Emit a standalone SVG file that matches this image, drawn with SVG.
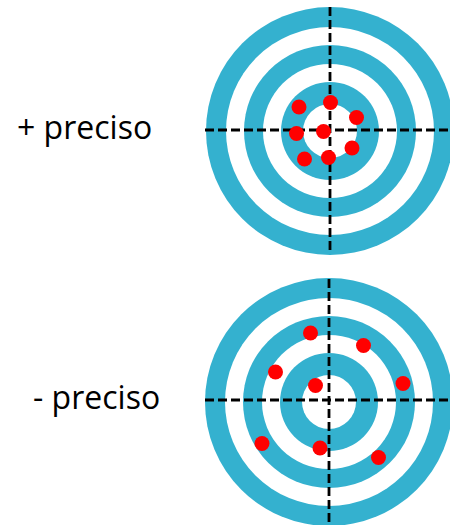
<svg xmlns="http://www.w3.org/2000/svg" width="450" height="525" viewBox="0 0 450 525">
  <style>
    .blue { fill: #34B1CF; }
    .white { fill: #FFFFFF; }
    .dot { fill: #FF0000; }
    .axis { stroke: #000000; stroke-width: 2.8; stroke-dasharray: 9 4; fill: none; }
    .label { font-family: "Open Sans", "Liberation Sans", sans-serif; font-size: 32px; fill: #000000; }
  </style>
  <defs>
    <g id="rings">
      <circle r="124" class="blue"/>
      <circle r="104" class="white"/>
      <circle r="86" class="blue"/>
      <circle r="67" class="white"/>
      <circle r="49" class="blue"/>
      <circle r="27" class="white"/>
    </g>
  </defs>
  <rect width="450" height="525" fill="#FFFFFF"/>

  <g id="target-top">
    <use href="#rings" x="330" y="131"/>
  </g>
  <g id="target-bottom">
    <use href="#rings" x="329" y="402"/>
  </g>

  <g id="connectors">
    <line class="axis" x1="205" y1="130" x2="450" y2="130"/>
    <line class="axis" x1="330" y1="7" x2="330" y2="253"/>
    <line class="axis" x1="205" y1="400" x2="450" y2="400"/>
    <line class="axis" x1="329" y1="279" x2="329" y2="525"/>
  </g>

  <g id="dots-top">
    <circle class="dot" cx="299" cy="107" r="7.5"/>
    <circle class="dot" cx="330.5" cy="102.5" r="7.5"/>
    <circle class="dot" cx="356.5" cy="117.5" r="7.5"/>
    <circle class="dot" cx="296.5" cy="133.5" r="7.5"/>
    <circle class="dot" cx="323.5" cy="131.5" r="7.5"/>
    <circle class="dot" cx="352" cy="148" r="7.5"/>
    <circle class="dot" cx="304.5" cy="159" r="7.5"/>
    <circle class="dot" cx="328.5" cy="157.5" r="7.5"/>
  </g>

  <g id="dots-bottom">
    <circle class="dot" cx="310.5" cy="333" r="7.5"/>
    <circle class="dot" cx="363.5" cy="345.5" r="7.5"/>
    <circle class="dot" cx="275.5" cy="372" r="7.5"/>
    <circle class="dot" cx="403" cy="383.5" r="7.5"/>
    <circle class="dot" cx="315.5" cy="385.5" r="7.5"/>
    <circle class="dot" cx="262" cy="443.5" r="7.5"/>
    <circle class="dot" cx="320" cy="448" r="7.5"/>
    <circle class="dot" cx="378.5" cy="457.5" r="7.5"/>
  </g>

  <g id="label-top">
    <text class="label" x="17" y="139">+ preciso</text>
  </g>
  <g id="label-bottom">
    <text class="label" x="33" y="409">- preciso</text>
  </g>
</svg>
